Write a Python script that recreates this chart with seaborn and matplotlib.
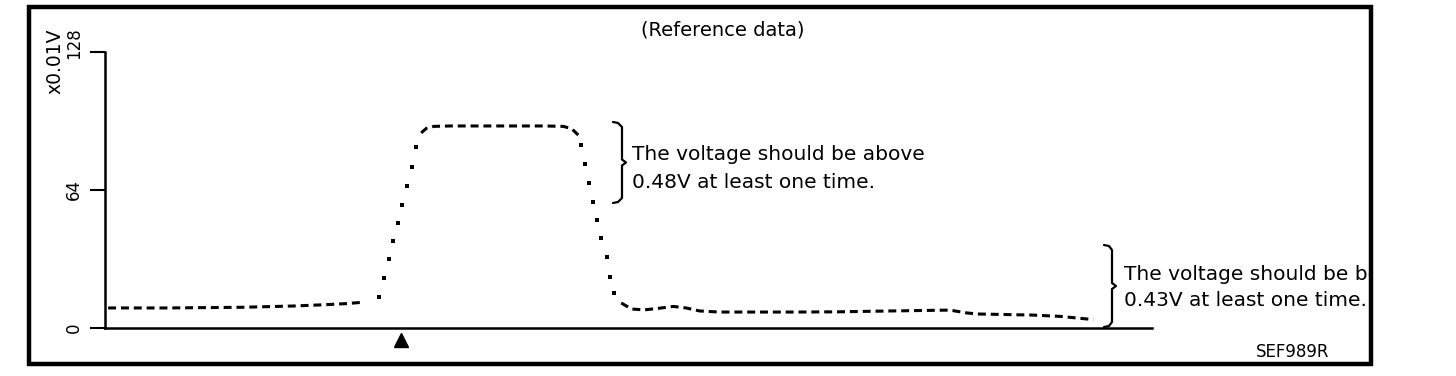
import matplotlib
matplotlib.use("Agg")
import matplotlib.pyplot as plt
from matplotlib.patches import Rectangle
from matplotlib.transforms import Bbox, ScaledTranslation
import seaborn as sns
import pandas as pd

sns.set_theme(style="white")
plt.rcParams["font.family"] = ["DejaVu Sans"]
plt.rcParams["text.color"] = "black"
plt.rcParams["ytick.color"] = "black"
plt.rcParams["ytick.labelcolor"] = "black"

# flat / slow parts of the trace (drawn dashed)
lead_x = [0.3, 6, 13, 18, 21, 23, 24.8]
lead_y = [9.3, 9.3, 9.6, 10.2, 10.8, 11.3, 12.0]
top_x = [30.2, 30.7, 31.4, 33, 38, 42, 43.8, 44.6, 45.2]
top_y = [90.5, 92.6, 93.5, 93.7, 93.7, 93.7, 93.5, 92.3, 89.5]
tail_x = [49.3, 50.3, 51.5, 53, 54.3, 55.5, 56.8, 58.7, 62, 66, 70, 75, 80.7, 82.3, 83.3, 88.6, 91.2, 94.4]
tail_y = [11.6, 8.8, 8.4, 9.2, 10.0, 9.3, 7.9, 7.4, 7.4, 7.4, 7.5, 7.9, 8.3, 7.0, 6.5, 6.0, 5.4, 3.9]

# steep parts (sparse samples, drawn as dots)
rise_x = [26.2, 26.6, 27.1, 27.5, 28.0, 28.4, 28.8, 29.3, 29.7]
rise_y = [14.4, 23.2, 32.0, 40.4, 48.7, 57.0, 65.9, 74.7, 84.0]
fall_x = [45.5, 45.8, 46.2, 46.6, 47.0, 47.4, 47.9, 48.2, 48.6]
fall_y = [84.9, 76.0, 67.2, 58.4, 50.0, 41.7, 32.9, 23.7, 16.2]

y_ticks = [0, 64, 128]
y_unit = "x0.01V"
title = "(Reference data)"
note_high = ["The voltage should be above", "0.48V at least one time."]
note_low = ["The voltage should be below", "0.43V at least one time."]
fig_code = "SEF989R"
trigger_x = 28.3

W, H = 1456, 376
fig = plt.figure(figsize=(W / 100, H / 100), dpi=100)
ax = fig.add_axes([105 / W, 48 / H, 1047 / W, 276 / H])

for xs, ys in [(lead_x, lead_y), (top_x, top_y), (tail_x, tail_y)]:
    sns.lineplot(x=xs, y=ys, ax=ax, color="black", linewidth=2.2,
                 linestyle=(0, (2.6, 1.6)), sort=False, estimator=None)
dots = pd.DataFrame({"x": rise_x + fall_x, "y": rise_y + fall_y})
sns.scatterplot(data=dots, x="x", y="y", ax=ax, color="black", s=8,
                marker="s", linewidth=0)

ax.set_xlim(0, 100)
ax.set_ylim(0, 128)
ax.set_xticks([])
ax.set_yticks(y_ticks)
ax.set_yticklabels([str(t) for t in y_ticks], rotation=90, va="center")
ax.tick_params(axis="y", length=11, width=1.5, color="black", pad=5,
               labelsize=12, labelcolor="black", left=True)
# the top label sits a little above its tick
top_lbl = ax.get_yticklabels()[-1]
top_lbl.set_transform(top_lbl.get_transform()
                      + ScaledTranslation(0, 0.09, fig.dpi_scale_trans))
ax.set_xlabel("")
ax.set_ylabel("")
for side in ["top", "right"]:
    ax.spines[side].set_visible(False)
for side in ["left", "bottom"]:
    ax.spines[side].set_color("black")
    ax.spines[side].set_linewidth(1.8)

# trigger mark below the axis
ax.plot([trigger_x], [-5.6], marker="^", color="black", markersize=10,
        clip_on=False)

# outer frame
frame = Rectangle((29 / W, 1 - 364 / H), (1371 - 29) / W, (364 - 7) / H,
                  transform=fig.transFigure, fill=False, edgecolor="black",
                  linewidth=3.2)
fig.patches.append(frame)


def brace(x0, x1, ytop, ybot):
    # curly brace drawn in pixel space, converted to figure coords
    ym = (ytop + ybot) / 2
    xs = [x0, x0 + 5, x1 - 3, x1 - 3, x1 + 1, x1 - 3, x1 - 3, x0 + 5, x0]
    ys = [ytop, ytop + 1, ytop + 5, ym - 3, ym, ym + 3, ybot - 5, ybot - 1, ybot]
    fig.add_artist(plt.Line2D([x / W for x in xs], [1 - y / H for y in ys],
                              color="black", linewidth=1.6))


brace(613, 625, 122, 203)
brace(1104, 1115, 245, 327)

clip = Bbox.from_extents(0, 0, 1369, H)
for i, line in enumerate(note_high):
    fig.text(632 / W, 1 - (155 + 27 * i) / H, line, fontsize=14.5,
             va="center", ha="left", color="black")
for i, line in enumerate(note_low):
    t = fig.text(1124 / W, 1 - (274 + 27 * i) / H, line, fontsize=14.5,
                 va="center", ha="left", color="black")
    t.set_clip_box(clip)
    t.set_clip_on(True)

fig.text(723 / W, 1 - 30 / H, title, fontsize=14, ha="center", va="center",
         color="black")
fig.text(55 / W, 1 - 61 / H, y_unit, fontsize=13.5, rotation=90,
         ha="center", va="center", color="black")
fig.text(1293 / W, 1 - 352 / H, fig_code, fontsize=12, ha="center",
         va="center", color="black")

fig.savefig("out.png", dpi=100, facecolor="white")
